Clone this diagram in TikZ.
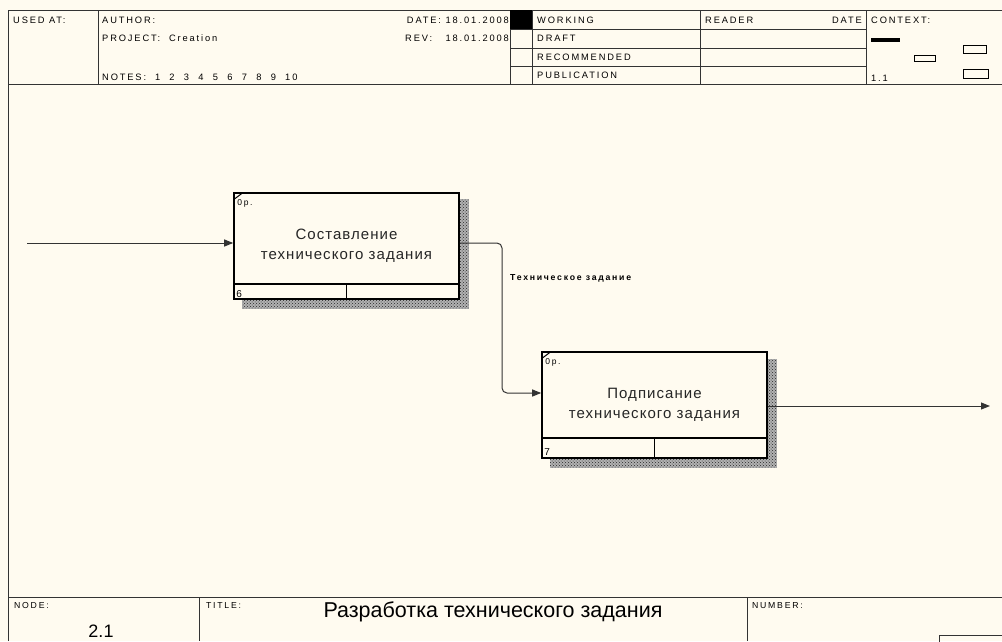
\documentclass[tikz,border=0pt]{standalone}
\usepackage{fontspec}
\setmainfont{Liberation Sans}
\newfontfamily\frmfont[LetterSpace=20]{Liberation Sans}
\newfontfamily\boxfont[LetterSpace=7]{Liberation Sans}
\usetikzlibrary{arrows.meta, positioning, calc, patterns, backgrounds}
\definecolor{formbg}{RGB}{255,251,240}
\newcommand{\nsp}{\hspace{9.3pt}}
\tikzset{
  frm/.style   ={line width=1pt, draw=black!80},
  hdr/.style   ={font=\frmfont\fontsize{9.3}{10}\selectfont, anchor=base west, inner sep=0pt, text=black},
  hdrR/.style  ={hdr, anchor=base east},
  foot/.style  ={hdr, font=\frmfont\fontsize{8.7}{10}\selectfont},
  actbox/.style={draw, line width=1.6pt, fill=formbg, minimum width=225pt, minimum height=106pt,
                 inner sep=0pt, align=center, font=\boxfont\fontsize{15}{20}\selectfont, text=black!85},
  strip/.style ={line width=1.6pt},
  shdw/.style  ={fill=black!30, postaction={pattern=crosshatch dots, pattern color=black!85}},
  flow/.style  ={-{Triangle[length=9pt, width=7pt]}, line width=1pt, draw=black!80},
  cost/.style  ={font=\frmfont\fontsize{8.5}{10}\selectfont, anchor=base west, inner sep=0pt},
  num/.style   ={font=\fontsize{10}{10}\selectfont, anchor=base west, inner sep=0pt},
  arrlab/.style={font=\frmfont\bfseries\fontsize{8.7}{10}\selectfont, anchor=base west, inner sep=0pt, text=black},
  ttl/.style   ={font=\fontsize{21.5}{24}\selectfont, anchor=base, inner sep=0pt, text=black},
}

\begin{document}
\begin{tikzpicture}[x=1pt, y=-1pt]
  \useasboundingbox (0,0) rectangle (1002,641);
  \clip (0,0) rectangle (1002,641);

  % form frame, header
  \draw[frm] (8,641) -- (8,10) -- (1002,10);
  \draw[frm] (8,84) -- (1002,84);
  \foreach \x in {98,510,532,700,866} \draw[frm] (\x,10) -- (\x,84);
  \foreach \y in {29,48,66} \draw[frm] (510,\y) -- (866,\y);
  \fill (510,10) rectangle (532,29);
  \node[hdr] (usedat) at (13,23) {USED AT:};
  \node[hdr] (author) at (102,23) {AUTHOR:};
  \node[hdr] (project) at (102,41) {PROJECT:\ \ Creation};
  \node[hdr] (notes) at (102,80) {NOTES:\ \ 1\nsp2\nsp3\nsp4\nsp5\nsp6\nsp7\nsp8\nsp9\nsp10};
  \node[hdrR] (date) at (509,23) {DATE: 18.01.2008};
  \node[hdrR] (rev) at (509,41) {REV:\ \ \ 18.01.2008};
  \node[hdr] (working) at (537,23) {WORKING};
  \node[hdr] (draft) at (537,41.5) {DRAFT};
  \node[hdr] (recomm) at (537,60) {RECOMMENDED};
  \node[hdr] (public) at (537,78.5) {PUBLICATION};
  \node[hdr] (reader) at (705,23) {READER};
  \node[hdrR] (rdate) at (862,23) {DATE};
  \node[hdr] (context) at (871,23) {CONTEXT:};
  \node[hdr] (ctxno) at (871,81) {1.1};
  % context thumbnails
  \fill (871,38) rectangle (900,42);
  \draw[line width=0.8pt] (963,45) rectangle (986,53);
  \draw[line width=0.8pt] (914,55.5) rectangle (935,61);
  \draw[line width=0.8pt] (963,69.5) rectangle (988,78.5);

  % footer
  \draw[frm] (8,597) -- (1002,597);
  \draw[frm] (199,597) -- (199,641);
  \draw[frm] (747,597) -- (747,641);
  \draw[frm] (939,660) -- (939,635) -- (1010,635);
  \node[foot] (nodelab) at (14,608.5) {NODE:};
  \node[foot] (titlelab) at (206,608.5) {TITLE:};
  \node[foot] (numlab) at (752,608.5) {NUMBER:};
  \node[ttl] (title) at (493,617) {Разработка технического задания};
  \node[ttl, font=\fontsize{18}{20}\selectfont] (nodeno) at (101,637) {2.1};

  % activities
  \node[actbox] (sost) at (346.5,246) {Составление\\технического задания};
  \node[actbox] (podp) at (654.5,405) {Подписание\\технического задания};
  \begin{scope}[on background layer]
    \fill[formbg] (0,0) rectangle (1002,641);
    \path[shdw] ($(sost.north west)+(9,7)$) rectangle ($(sost.south east)+(9,9)$);
    \path[shdw] ($(podp.north west)+(9,8)$) rectangle ($(podp.south east)+(9,9)$);
  \end{scope}
  \draw[strip] ($(sost.south west)+(0,-16)$) -- ($(sost.south east)+(0,-16)$);
  \draw[strip] ($(sost.south)+(0,-16)$) -- (sost.south);
  \draw[strip] ($(podp.south west)+(0,-21)$) -- ($(podp.south east)+(0,-21)$);
  \draw[strip] ($(podp.south)+(0,-21)$) -- (podp.south);
  \draw[line width=1pt] ($(sost.north west)+(1,7)$) -- ($(sost.north west)+(9,1)$);
  \draw[line width=1pt] ($(podp.north west)+(1,7)$) -- ($(podp.north west)+(9,1)$);
  \node[cost] (sostc) at ($(sost.north west)+(4,13)$) {0р.};
  \node[cost] (podpc) at ($(podp.north west)+(4,13)$) {0р.};
  \node[num] (sostn) at ($(sost.south west)+(3,-2)$) {6};
  \node[num] (podpn) at ($(podp.south west)+(3,-3)$) {7};

  % arrows
  \coordinate (in) at (27,243);
  \coordinate (bend) at (502,393);
  \coordinate (out) at (990,406);
  \draw[flow] (in) -- (in -| sost.west);
  \draw[flow, rounded corners=5] (in -| sost.east) -- (bend |- in) -- (bend) -- (bend -| podp.west);
  \draw[flow] (out -| podp.east) -- (out);
  \node[arrlab] (tzlab) at (510,280) {Техническое задание};
\end{tikzpicture}
\end{document}
